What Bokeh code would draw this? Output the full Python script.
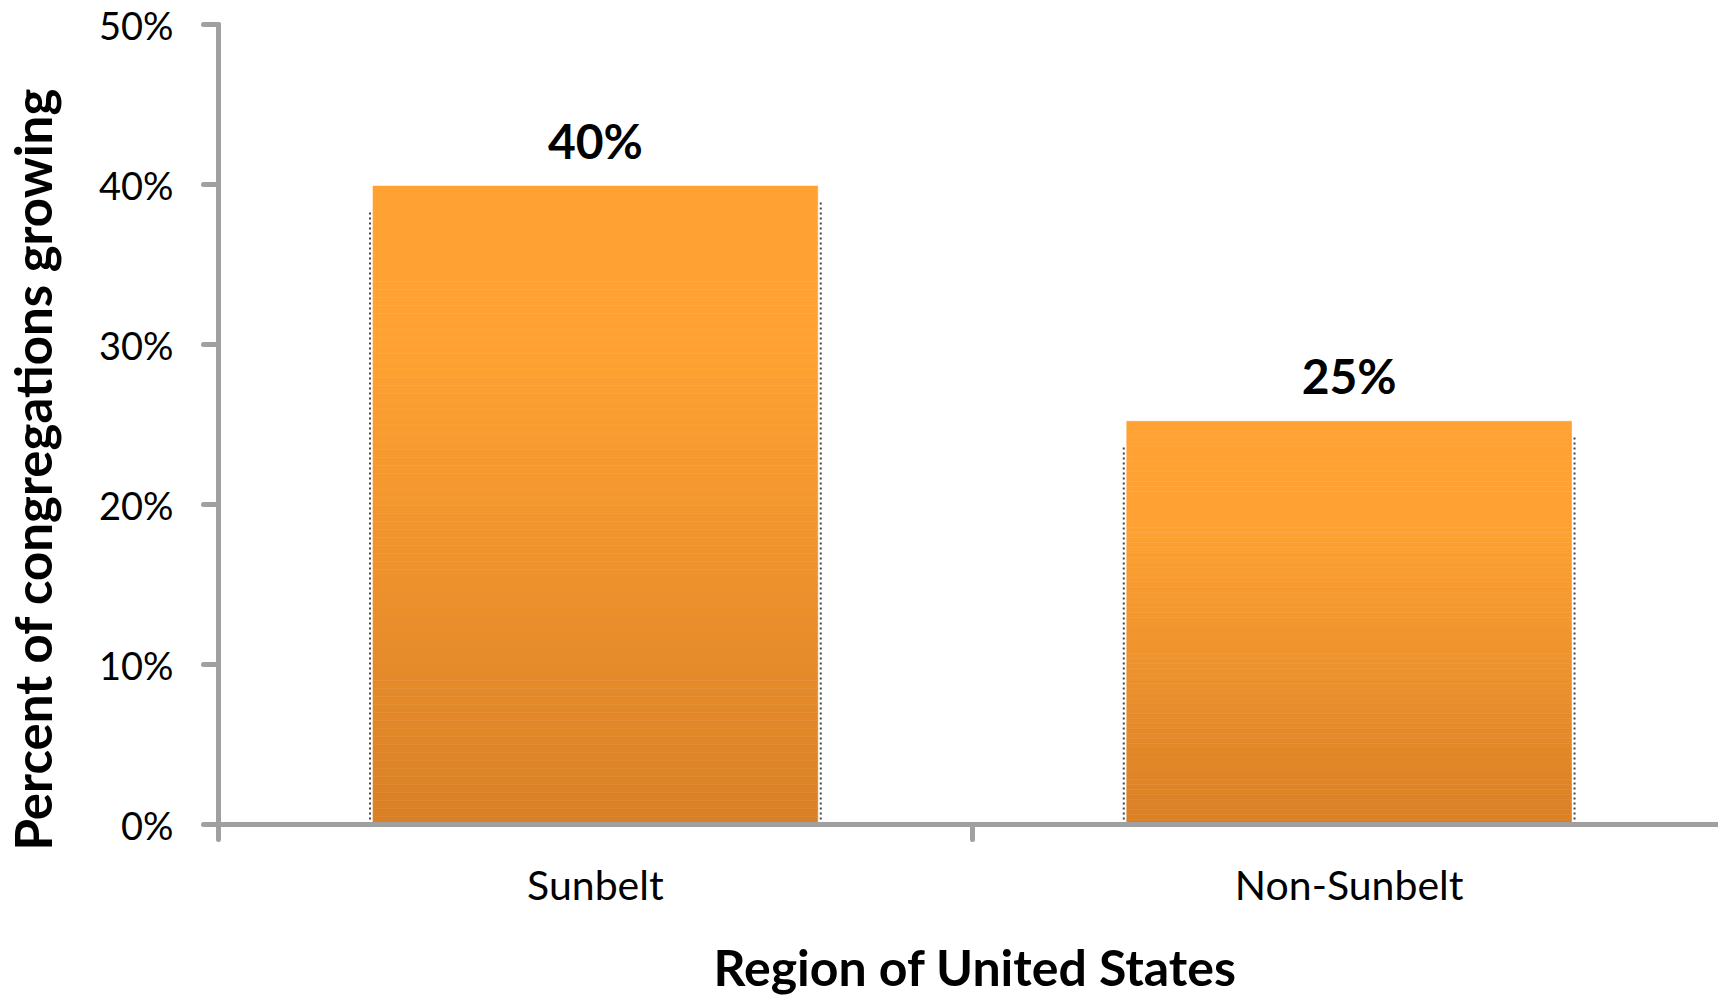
from bokeh.plotting import figure
from bokeh.models import (FixedTicker, Range1d, ColumnDataSource, LabelSet, Title,
                          PrintfTickFormatter, LinearAxis)
from bokeh.core.properties import value
from bokeh.embed import file_html
from bokeh.resources import INLINE

# ---- data ----
categories = ["Sunbelt", "Non-Sunbelt"]
values = [39.9, 25.2]
value_labels = ["40%", "25%"]
y_ticks = [0, 10, 20, 30, 40, 50]
x_title = "Region of United States"
y_title = "Percent of congregations growing"

FONT = "Lato"
AXIS_COL = "#A0A0A0"
TOP = (255, 162, 51)
BOT = (217, 128, 38)
BAR_W = 0.59
N_BANDS = 80

p = figure(width=1718, height=997, output_backend="svg", toolbar_location=None,
           x_range=Range1d(0, 1.99), y_range=Range1d(0, 50),
           min_border_left=217, min_border_right=0, min_border_top=24,
           min_border_bottom=170)
p.outline_line_color = None
p.xgrid.visible = False
p.ygrid.visible = False
p.background_fill_color = "white"
p.border_fill_color = "white"

centers = [i + 0.5 for i in range(len(categories))]


def shade(t):
    # t: 0 at top of bar, 1 at bottom
    f = 0.0 if t < 0.25 else (t - 0.25) / 0.75
    c = [round(a + (b - a) * f) for a, b in zip(TOP, BOT)]
    return "#%02x%02x%02x" % tuple(c)


left, right, bottom, top, color = [], [], [], [], []
for cx, v in zip(centers, values):
    for i in range(N_BANDS):
        left.append(cx - BAR_W / 2)
        right.append(cx + BAR_W / 2)
        bottom.append(v * i / N_BANDS)
        top.append(v * (i + 1) / N_BANDS)
        color.append(shade(1 - (i + 0.5) / N_BANDS))
p.quad(left=left, right=right, bottom=bottom, top=top, fill_color=color,
       line_color=color, line_width=0.6)

# dotted shadow edges
x0 = [cx - BAR_W / 2 - 0.004 for cx in centers] + [cx + BAR_W / 2 + 0.004 for cx in centers]
y1 = [v - 1.6 for v in values] + [v - 1.0 for v in values]
p.segment(x0=x0, y0=[0] * 4, x1=x0, y1=y1, line_color="#444444", line_width=2,
          line_dash="2 3")

src = ColumnDataSource(dict(x=centers, y=values, t=value_labels))
p.add_layout(LabelSet(x="x", y="y", text="t", source=src, y_offset=46,
                      text_align="center", text_baseline="middle",
                      text_font=value(FONT), text_font_style="bold",
                      text_font_size="48px", text_color="black"))

# x axis
xa = p.xaxis[0]
xa.ticker = FixedTicker(ticks=centers, minor_ticks=[float(i) for i in range(len(categories) + 1)])
xa.major_label_overrides = {c: lab for c, lab in zip(centers, categories)}
xa.major_tick_out = 0
xa.major_tick_in = 0
xa.major_tick_line_color = None
xa.minor_tick_out = 15
xa.minor_tick_in = 0
xa.minor_tick_line_width = 5
xa.minor_tick_line_color = AXIS_COL
xa.minor_tick_line_cap = "round"
xa.axis_line_width = 5
xa.axis_line_color = AXIS_COL
xa.axis_line_cap = "round"
xa.major_label_text_font = FONT
xa.major_label_text_font_size = "41px"
xa.major_label_text_color = "black"
xa.major_label_standoff = 20

# y axis
ya = p.yaxis[0]
ya.ticker = FixedTicker(ticks=y_ticks)
ya.formatter = PrintfTickFormatter(format="%d%%")
ya.major_tick_out = 15
ya.major_tick_in = 0
ya.major_tick_line_width = 5
ya.major_tick_line_color = AXIS_COL
ya.major_tick_line_cap = "round"
ya.minor_tick_line_color = None
ya.axis_line_width = 5
ya.axis_line_color = AXIS_COL
ya.axis_line_cap = "round"
ya.major_label_text_font = FONT
ya.major_label_text_font_size = "38px"
ya.major_label_text_color = "black"
ya.major_label_standoff = 30


def spacer(size, tick):
    # invisible axis used only to push the axis title outward
    return LinearAxis(ticker=FixedTicker(ticks=[tick]), axis_line_color=None,
                      major_tick_out=size, major_tick_in=0, minor_tick_out=0,
                      minor_tick_in=0, major_tick_line_color=None,
                      minor_tick_line_color=None,
                      major_label_overrides={tick: ""}, major_label_standoff=0,
                      major_label_text_font_size="0px", major_label_text_color=None)


p.add_layout(spacer(24, 1.0), "below")
p.add_layout(spacer(32, 25.0), "left")

# axis titles
p.add_layout(Title(text=x_title, align="left", offset=495, vertical_align="middle",
                   standoff=0, text_font=FONT, text_font_style="bold",
                   text_font_size="50px", text_color="black"), "below")
p.add_layout(Title(text=y_title, align="left", offset=-26, vertical_align="middle",
                   standoff=0, text_font=FONT, text_font_style="bold",
                   text_font_size="51px", text_color="black"), "left")

open("out.html", "w").write(file_html(p, INLINE))
